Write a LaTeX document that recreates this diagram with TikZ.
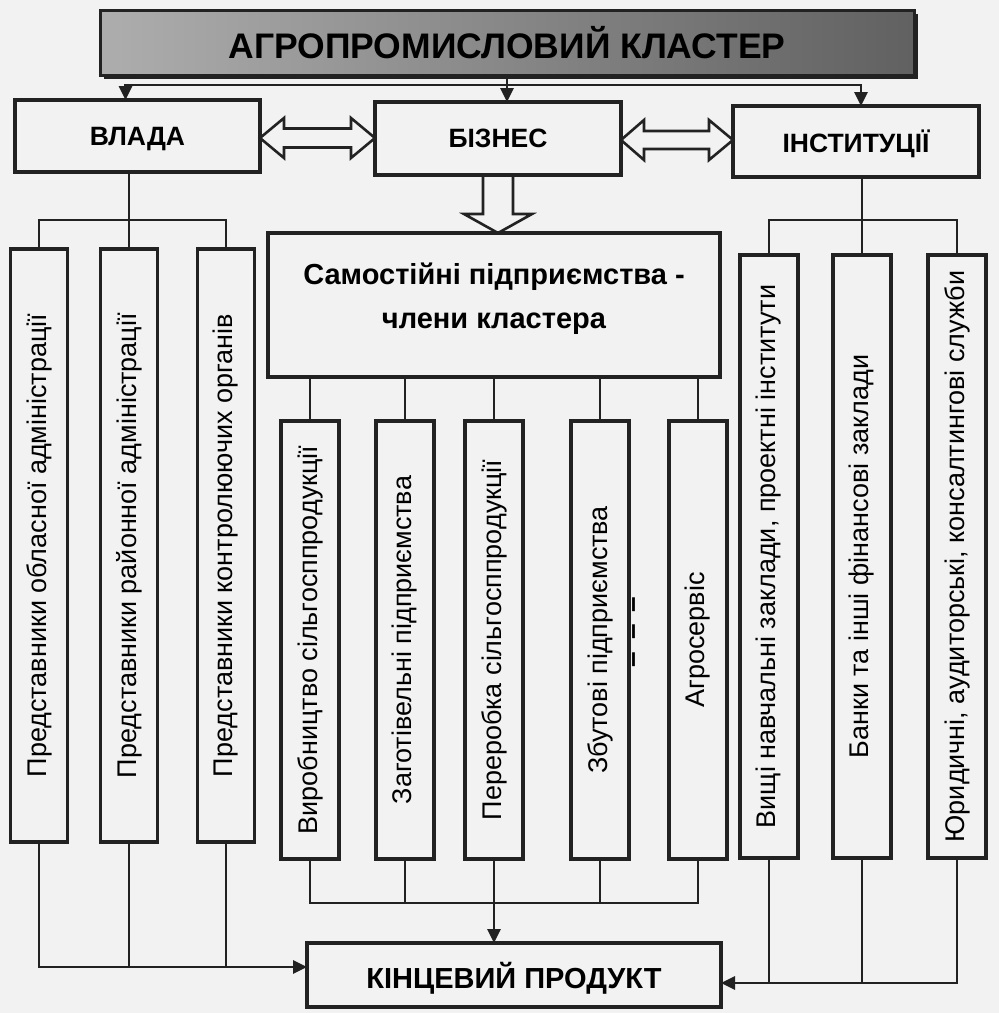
\documentclass[tikz,border=0pt]{standalone}
\usepackage{fontspec}
\setmainfont{Liberation Sans}
\usepackage{graphicx}
\usetikzlibrary{arrows.meta,calc}
\definecolor{ink}{HTML}{222222}
\definecolor{paper}{HTML}{F2F2F2}
\begin{document}
\begin{tikzpicture}[x=1pt,y=-1pt,
  box/.style={draw=ink, line width=3.2pt, fill=paper, inner sep=0pt, outer sep=0pt},
  ln/.style={draw=ink, line width=2.8pt},
  arr/.style={ln, -{Triangle[length=14pt,width=13pt]}},
  hollow/.style={draw=ink, line width=2.6pt, line join=miter},
  big/.style={font=\fontsize{26.5}{30}\selectfont\bfseries, text depth=0pt},
  vbox/.style={box, font=\fontsize{27}{30}\selectfont},
]
\useasboundingbox (0,0) rectangle (999,1013);
\fill[paper] (0,0) rectangle (999,1013);

% title
\fill[ink] (104,14) rectangle (918,79);
\node[draw=ink, line width=3pt, left color=black!32, right color=black!62,
      minimum width=814pt, minimum height=65pt, inner sep=0pt, outer sep=0pt, text depth=0pt,
      font=\fontsize{35.5}{40}\selectfont\bfseries] (title) at (507,42.5) {АГРОПРОМИСЛОВИЙ КЛАСТЕР};

% second level
\node[box, minimum width=245pt, minimum height=72pt, big] (vlada) at (137.5,136) {ВЛАДА};
\node[box, minimum width=246pt, minimum height=73pt, big] (biz) at (498,138.5) {БІЗНЕС};
\node[box, minimum width=246pt, minimum height=71pt, big] (inst) at (856,141.5) {ІНСТИТУЦІЇ};

\node[box, minimum width=452pt, minimum height=144pt] (samo) at (494,305) {};
\node[align=center, inner sep=0pt, font=\fontsize{29}{44}\selectfont\bfseries] (samotext) at (samo.center) [yshift=6pt]
      {Самостійні підприємства -\\члени кластера};

% left group
\node[vbox, minimum width=57pt, minimum height=593pt] (l1) at (39,545.5) {\rotatebox{90}{Представники обласної адміністрації}};
\node[vbox, minimum width=57pt, minimum height=593pt] (l2) at (129,545.5) {\rotatebox{90}{Представники районної адміністрації}};
\node[vbox, minimum width=57pt, minimum height=593pt] (l3) at (226,545.5) {\rotatebox{90}{Представники контролюючих органів}};

% middle group
\node[vbox, minimum width=58pt, minimum height=438pt] (mA) at (310,640) {\rotatebox{90}{Виробництво сільгосппродукції}};
\node[vbox, minimum width=58pt, minimum height=438pt] (mB) at (405,640) {\rotatebox{90}{Заготівельні підприємства}};
\node[vbox, minimum width=58pt, minimum height=438pt] (mC) at (494,640) {\rotatebox{90}{Переробка сільгосппродукції}};
\node[vbox, minimum width=58pt, minimum height=438pt] (mD) at (600,640) {\rotatebox{90}{Збутові підприємства}};
\node[vbox, minimum width=58pt, minimum height=438pt] (mE) at (698,640) {\rotatebox{90}{Агросервіс}};
\node[font=\fontsize{28}{30}\selectfont\bfseries, inner sep=0pt] (etc) at (637,632) {\rotatebox{90}{–\kern12pt–\kern12pt–}};

% right group
\node[vbox, minimum width=58pt, minimum height=603pt] (r1) at (769,556.5) {\rotatebox{90}{Вищі навчальні заклади, проектні інститути}};
\node[vbox, minimum width=58pt, minimum height=603pt] (r2) at (862,556.5) {\rotatebox{90}{Банки та інші фінансові заклади}};
\node[vbox, minimum width=58pt, minimum height=603pt] (r3) at (957,556.5) {\rotatebox{90}{Юридичні, аудиторські, консалтингові служби}};

% final
\node[box, minimum width=414pt, minimum height=64pt, text depth=0pt, font=\fontsize{29}{34}\selectfont\bfseries] (kin) at (514,975) {КІНЦЕВИЙ ПРОДУКТ};

% top bus
\coordinate (tb) at (title.south |- 0,85);
\draw[ln] (title.south) -- (tb);
\draw[arr] (tb) -| ($(vlada.north)+(-12,0)$);
\draw[arr] (tb) -| ($(inst.north)+(5,0)$);
\draw[arr] (tb) -- (tb |- biz.north);

% hollow double arrows
\draw[hollow] (vlada.east |- 0,138) -- ++(24,-20) -- ++(0,10.5)
  -- ($(biz.west |- 0,138)+(-24,-9.5)$) -- ++(0,-10.5) -- (biz.west |- 0,138)
  -- ++(-24,20) -- ++(0,-10.5) -- ($(vlada.east |- 0,138)+(24,9.5)$) -- ++(0,10.5) -- cycle;
\draw[hollow] (biz.east |- 0,140) -- ++(23,-20) -- ++(0,11)
  -- ($(inst.west |- 0,140)+(-24,-9)$) -- ++(0,-11) -- (inst.west |- 0,140)
  -- ++(-24,20) -- ++(0,-11) -- ($(biz.east |- 0,140)+(23,9)$) -- ++(0,11) -- cycle;
% hollow down arrow
\draw[hollow] ($(biz.south)+(-15,0)$) -- ($(biz.south |- samo.north)+(-15,-19)$) -- ++(-19,0)
  -- (biz.south |- samo.north) -- ++(34,-19) -- ++(-19,0) -- ($(biz.south)+(15,0)$);

% left tree
\draw[ln] (vlada.south -| l2.north) -- (l2.north);
\draw[ln] (l1.north) -- (l1.north |- 0,220) -| (l3.north);
% right tree
\draw[ln] (inst.south -| r2.north) -- (r2.north);
\draw[ln] (r1.north) -- (r1.north |- 0,220) -| (r3.north);
% middle tree
\foreach \m in {mA,mB,mC,mD,mE} \draw[ln] (samo.south -| \m.north) -- (\m.north);

% bottom buses
\draw[ln] (mA.south) -- (mA.south |- 0,903) -| (mE.south);
\draw[ln] (mB.south) -- (mB.south |- 0,903);
\draw[ln] (mD.south) -- (mD.south |- 0,903);
\draw[arr] (mC.south) -- (mC.south |- kin.north);

\draw[arr] (l1.south) |- (kin.west |- 0,967);
\draw[ln] (l2.south) -- (l2.south |- 0,967);
\draw[ln] (l3.south) -- (l3.south |- 0,967);

\draw[arr] (r3.south) |- (kin.east |- 0,983);
\draw[ln] (r1.south) -- (r1.south |- 0,983);
\draw[ln] (r2.south) -- (r2.south |- 0,983);
\end{tikzpicture}
\end{document}
